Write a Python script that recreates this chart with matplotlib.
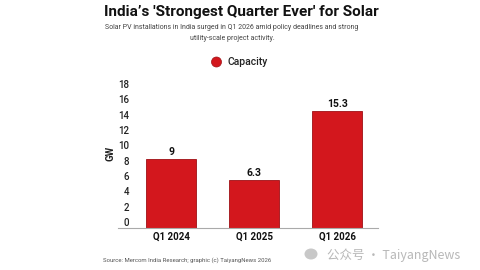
import matplotlib
matplotlib.use("Agg")
import matplotlib.pyplot as plt
import matplotlib.transforms as mtransforms
from matplotlib.patches import Circle, Ellipse

categories = ["Q1 2024", "Q1 2025", "Q1 2026"]
capacity = [9, 6.3, 15.3]
value_labels = ["9", "6.3", "15.3"]
yticks = [0, 2, 4, 6, 8, 10, 12, 14, 16, 18]

plt.rcParams['font.family'] = ['Roboto', 'DejaVu Sans']

fig = plt.figure(figsize=(4.8, 2.7), dpi=100)
fig.patch.set_facecolor("white")
ax = fig.add_axes([118/480, 1-228/270, (378-118)/480, (228-90)/270])

red = "#d3171d"
x = list(range(len(categories)))
bars = ax.bar(x, capacity, width=0.6, color=red, edgecolor="#9e1015", linewidth=0.6)
for xi, v, lab in zip(x, capacity, value_labels):
    ax.text(xi, v + 0.25, lab, ha="center", va="bottom", fontsize=7.5,
            fontweight="bold", color="#111111")

ax.set_xlim(-0.64, 2.49)
ax.set_ylim(0, 18)
ax.set_xticks(x)
ax.set_xticklabels(categories, fontsize=7, fontweight="bold", color="#111111")
ax.set_yticks(yticks)
ax.set_yticklabels([str(t) for t in yticks], fontsize=7, fontweight="medium", color="#222222")
ax.tick_params(axis="both", length=0)
ax.tick_params(axis="x", pad=3)
ax.tick_params(axis="y", pad=-8)
off = mtransforms.ScaledTranslation(0, 6/100, fig.dpi_scale_trans)
for lbl in ax.get_yticklabels():
    lbl.set_transform(lbl.get_transform() + off)
for s in ["top", "right", "left"]:
    ax.spines[s].set_visible(False)
ax.spines["bottom"].set_color("#aaaaaa")
ax.spines["bottom"].set_linewidth(0.8)

fig.text(110/480, 1-153/270, "GW", rotation=90, ha="center", va="center",
         fontsize=7, fontweight="bold", color="#222222")

# Title and subtitle
fig.text(241/480, 1-12/270, "India\u2019s 'Strongest Quarter Ever' for Solar",
         ha="center", va="center", fontsize=11, fontweight="bold", color="#111111")
fig.text(232/480, 1-33/270,
         "Solar PV installations in India surged in Q1 2026 amid policy deadlines and strong\nutility-scale project activity.",
         ha="center", va="center", fontsize=5.0, color="#444444", linespacing=1.7)

# Legend
leg = Ellipse((216.5/480, 1-62/270), 10/480, 10/270, transform=fig.transFigure,
              facecolor=red, edgecolor="#9e1015", linewidth=0.5)
fig.patches.append(leg)
fig.text(228/480, 1-62/270, "Capacity", ha="left", va="center",
         fontsize=7.5, fontweight="medium", color="#222222")

# Source
fig.text(103/480, 1-260/270, "Source: Mercom India Research; graphic (c) TaiyangNews 2026",
         ha="left", va="center", fontsize=4.3, color="#555555")

# Watermark
fig.text(327/480, 1-255/270, "公众号 · TaiyangNews", ha="left", va="center",
         fontsize=9, color="#b8b8b8", family=['Noto Sans CJK SC', 'DejaVu Sans'])
fig.patches.append(Ellipse((311/480, 1-254/270), 13/480, 11/270, transform=fig.transFigure,
                           facecolor="#c8c8c8", edgecolor="none"))

fig.savefig("out.png", dpi=100, facecolor="white")
